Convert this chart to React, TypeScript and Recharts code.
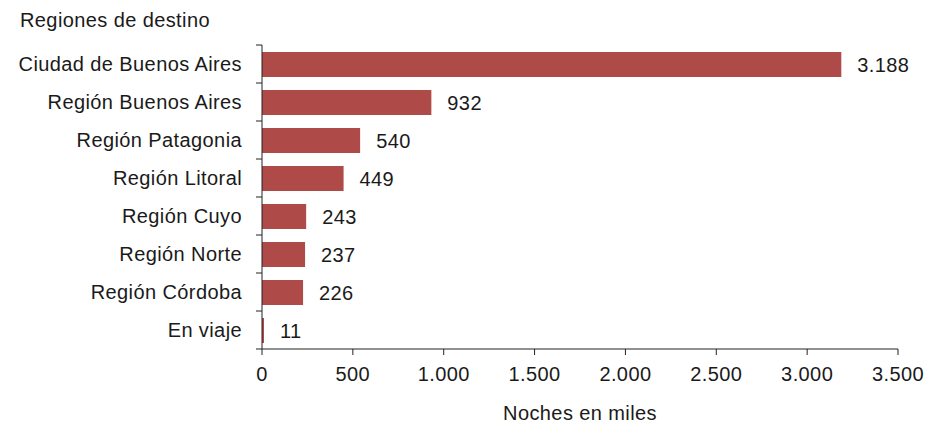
import { BarChart, Bar, XAxis, YAxis, LabelList, Label } from 'recharts';

const regions = [
  'Ciudad de Buenos Aires',
  'Región Buenos Aires',
  'Región Patagonia',
  'Región Litoral',
  'Región Cuyo',
  'Región Norte',
  'Región Córdoba',
  'En viaje',
];
const nights = [3188, 932, 540, 449, 243, 237, 226, 11];
const xTicks = [0, 500, 1000, 1500, 2000, 2500, 3000, 3500];

const data = regions.map((region, i) => ({ region, nights: nights[i] }));

const FONT = '"Liberation Sans", Arial, sans-serif';
const fmt = (v: number) => String(v).replace(/\B(?=(\d{3})+(?!\d))/g, '.');

const textStyle = { fontFamily: FONT, fontSize: 20, letterSpacing: 0.4, fill: '#1a1a1a' };

function RegionTick(props: any) {
  const { x, y, payload, index } = props;
  const half = 19;
  return (
    <g>
      <line x1={x + 14} x2={x + 20} y1={y - half} y2={y - half} stroke="#222" />
      {index === regions.length - 1 && (
        <line x1={x + 14} x2={x + 20} y1={y + half} y2={y + half} stroke="#222" />
      )}
      <text x={x} y={y} dy="0.355em" textAnchor="end" style={textStyle}>
        {payload.value}
      </text>
    </g>
  );
}

export default function App() {
  return (
    <div style={{ position: 'relative', width: 929, height: 426, background: '#fff' }}>
      <style>{`body{margin:0}`}</style>
      <div
        style={{
          position: 'absolute',
          left: 20,
          top: 9,
          fontFamily: FONT,
          fontSize: 20,
          lineHeight: '23px',
          letterSpacing: 0.4,
          color: '#1a1a1a',
        }}
      >
        Regiones de destino
      </div>
      <BarChart
        width={929}
        height={426}
        data={data}
        layout="vertical"
        margin={{ top: 45, right: 31, bottom: 0, left: 12 }}
      >
        <XAxis
          type="number"
          domain={[0, 3500]}
          ticks={xTicks}
          tickFormatter={fmt}
          height={77}
          tickSize={6}
          tickMargin={12}
          stroke="#222"
          tick={textStyle}
        >
          <Label value="Noches en miles" position="insideBottom" offset={6} style={textStyle} />
        </XAxis>
        <YAxis
          type="category"
          dataKey="region"
          width={250}
          tickSize={0}
          tickMargin={20}
          stroke="#222"
          tick={<RegionTick />}
        />
        <Bar dataKey="nights" fill="#ae4a47" barSize={25} isAnimationActive={false}>
          <LabelList dataKey="nights" position="right" offset={16} formatter={fmt} style={textStyle} />
        </Bar>
      </BarChart>
    </div>
  );
}
